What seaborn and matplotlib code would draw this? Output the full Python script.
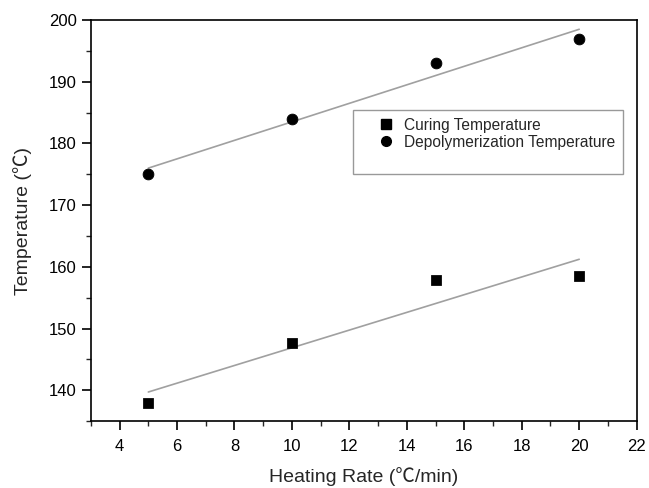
import matplotlib
matplotlib.use("Agg")
import matplotlib.pyplot as plt
import numpy as np
import pandas as pd
import seaborn as sns
from matplotlib.ticker import MultipleLocator
from matplotlib.lines import Line2D

# data
heating_rate = [5, 10, 15, 20]
curing_temp = [138.0, 147.6, 157.8, 158.5]
depoly_temp = [175.0, 184.0, 193.0, 197.0]

df = pd.DataFrame({'rate': heating_rate, 'cure': curing_temp, 'depoly': depoly_temp})

sns.set_style("ticks")
plt.rcParams['font.family'] = ['Liberation Sans', 'DejaVu Sans']
label_font = ['Liberation Sans', 'Noto Sans CJK SC', 'DejaVu Sans']

fig = plt.figure(figsize=(6.49, 4.88), dpi=100)
ax = fig.add_axes([0.140, 0.137, 0.841, 0.822])

# linear fits
sns.regplot(x='rate', y='cure', data=df, ax=ax, scatter=False, ci=None, truncate=True,
            line_kws={'color': '#a0a0a0', 'lw': 1.2})
sns.regplot(x='rate', y='depoly', data=df, ax=ax, scatter=False, ci=None, truncate=True,
            line_kws={'color': '#a0a0a0', 'lw': 1.2})

sns.scatterplot(x='rate', y='cure', data=df, ax=ax, marker='s', s=48, color='black',
                edgecolor='black', zorder=3)
sns.scatterplot(x='rate', y='depoly', data=df, ax=ax, marker='o', s=60, color='black',
                edgecolor='black', zorder=3)

ax.set_xlim(3, 22)
ax.set_ylim(135, 200)
ax.xaxis.set_major_locator(MultipleLocator(2))
ax.xaxis.set_minor_locator(MultipleLocator(1))
ax.yaxis.set_major_locator(MultipleLocator(10))
ax.yaxis.set_minor_locator(MultipleLocator(5))
ax.tick_params(which='major', direction='out', length=6.5, width=1.2, labelsize=12, colors='black')
ax.tick_params(axis='x', which='major', pad=6)
ax.tick_params(which='minor', direction='out', length=3.5, width=1.0)
ax.tick_params(top=False, right=False)
for sp in ax.spines.values():
    sp.set_visible(True)
    sp.set_linewidth(1.2)
    sp.set_color('black')

ax.set_xlabel('Heating Rate (\u2103/min)', fontsize=14, labelpad=10, family=label_font)
ax.set_ylabel('Temperature (\u2103)', fontsize=14, labelpad=12, family=label_font)

handles = [
    Line2D([], [], marker='s', ls='none', color='black', markersize=6.5),
    Line2D([], [], marker='o', ls='none', color='black', markersize=7),
    Line2D([], [], ls='none'),
]
leg = ax.legend(handles, ['Curing Temperature', 'Depolymerization Temperature', ' '],
                loc='upper left', bbox_to_anchor=(0.48, 0.776), borderaxespad=0,
                fontsize=11.2, frameon=True, fancybox=False, handletextpad=-0.5,
                handlelength=3.3, labelspacing=0.12, borderpad=0.5)
leg.get_frame().set_edgecolor('#808080')
leg.get_frame().set_linewidth(1.0)

fig.savefig('out.png', dpi=100)
